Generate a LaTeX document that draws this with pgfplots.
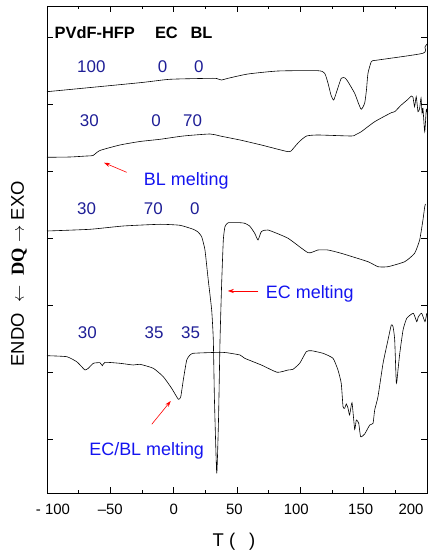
\documentclass[border=0pt]{standalone}
\usepackage{fontspec}
\setmainfont{Liberation Sans}
\newfontfamily\serifb{Liberation Serif}
\usepackage{pgfplots}
\pgfplotsset{compat=1.18}
\usetikzlibrary{arrows.meta}
\definecolor{numblue}{RGB}{30,30,150}
\definecolor{lblblue}{RGB}{20,20,240}
\begin{document}
\begin{tikzpicture}
\begin{axis}[
 scale only axis, width=380bp, height=487bp,
 xmin=-100, xmax=200, ymin=0, ymax=487,
 xtick={-100,-50,...,200}, xticklabels={\rule{12bp}{0pt}- 100,--50,0,50\rule{5bp}{0pt},100\rule{8bp}{0pt},150\rule{6bp}{0pt},200\rule{32bp}{0pt}},
 minor xtick={-75,-25,...,175},
 ytick={54,121,188,255,322,389,456}, yticklabels={},
 tick align=inside,
 major tick length=6bp, minor tick length=3.5bp,
 axis line style={line width=0.9pt},
 every tick/.style={line width=0.8pt, black},
 tick label style={font=\fontsize{15}{18}\selectfont},
 xticklabel style={yshift=-8bp},
 xlabel={T (\hspace{14bp})},
 xlabel style={at={(axis description cs:0.492,-0.1)}, anchor=center, font=\fontsize{18.5}{22}\selectfont},
 ylabel={ENDO\ \ $\leftarrow$\ \ {\serifb\bfseries DQ}\ $\rightarrow$\ EXO},
 ylabel style={at={(axis description cs:-0.074,0.45)}, anchor=center, font=\fontsize{18.5}{22}\selectfont},
 clip=false,
]
\coordinate (bl) at (rel axis cs:0,0);
\coordinate (tr) at (rel axis cs:1,1);
% curve 1: 100/0/0
\addplot[black, line width=0.6pt, smooth, tension=0.35] coordinates {
(-100,401.3) (-26.6,410.3) (-2.9,413.7) (31.1,414.7) (35.0,414) (37.9,413) (42.9,414.7)
(58.7,419) (82.4,422) (113.9,422.3) (119.2,419.7) (121.8,410) (124.2,398) (126.3,393)
(128.6,401) (132.3,414.7) (135.3,415) (137.6,411.3) (142.9,399.7) (145.5,391) (148.1,383.7)
(150.8,390) (152.2,403) (153.4,419.7) (156.0,431.3) (158.2,432.5) (161.3,433) (196.8,439.7)
(198.4,446) (200,449)};
% curve 2: 30/0/70
\addplot[black, line width=0.6pt, smooth, tension=0.35] coordinates {
(-100,335.7) (-81.8,336) (-68.7,337) (-63.7,337.5) (-58.2,342.5) (-42.4,348) (-26.6,351.5)
(-10.8,353.7) (7.6,357) (28.7,359) (36.6,357) (52.4,353) (69.2,348) (90.3,341.3) (93.4,343)
(95.6,346.3) (99.7,352) (105.0,357) (113.9,358) (140.2,357) (143.9,358.5) (148.1,361.3)
(158.7,371.3) (171.8,380.3) (174.5,381.3) (179.7,388) (185.0,393.7) (187.6,397) (188.9,396)
(190.2,386.3) (191.5,396.3) (192.9,381.3) (194.2,384.7) (195.3,395) (196.1,379.7) (196.8,384.7)
(198.2,361.3) (199.4,383) (200,381)};
% curve 3: 30/70/0
\addplot[black, line width=0.6pt, smooth, tension=0.3] coordinates {
(-100,262) (-66.1,263.7) (-39.8,267) (-10.8,268.7) (5.0,267.7) (15.5,263.7) (19.2,261)
(22.1,256.3) (24.7,243) (27.3,213) (30.0,183) (31.3,153) (32.2,93) (34.0,19.7) (35.4,73)
(36.6,153) (37.9,210) (39.2,253) (40.5,266.3) (43.1,270.3) (52.4,270.3) (56.1,269.7)
(60.0,267) (64.0,259.7) (66.6,253) (69.2,261.3) (74.5,263) (90.3,254.7) (106.1,240.3)
(113.9,243) (121.8,243) (132.3,239.7) (153.4,231.3) (161.3,226.3) (169.2,226.3)
(182.4,231.3) (190.2,239.7) (194.2,253) (196.8,273) (198.2,286.3) (198.8,289)};
% curve 4: 30/35/35
\addplot[black, line width=0.6pt, smooth, tension=0.3] coordinates {
(-100,137.3) (-84.4,136.3) (-76.6,131.3) (-72.4,126) (-70.0,123) (-67.4,124.7) (-63.4,129.7)
(-58.2,130.3) (-56.3,127.3) (-54.2,130.7) (-42.4,129.7) (-31.9,128) (-26.6,128.7)
(-16.1,124.7) (-8.2,116.3) (-1.6,104.7) (3.7,93.7) (5.6,96.3) (7.6,113) (10.3,133)
(12.9,138) (15.5,139.7) (26.1,140.3) (36.6,140.7) (41.9,140.3) (52.4,138) (56.1,134.7)
(69.2,128) (81.8,120.7) (90.3,123) (94.2,123.7) (99.5,129.7) (104.7,141.3) (108.7,142.3)
(117.9,139.7) (125.8,134.7) (129.7,123) (132.3,109.7) (133.7,86.3) (135.0,84.7) (136.3,89)
(137.6,85) (138.9,78) (140.8,90.3) (142.9,63.7) (144.2,73) (146.1,69.7) (147.6,56.3)
(150.8,59) (154.8,68) (157.4,69.7) (158.7,83) (161.3,96.3) (165.3,129.7) (169.2,153)
(171.8,168) (173.2,166.3) (174.5,153) (175.8,109.7) (177.1,123) (178.5,139.7) (181.1,163)
(184.0,174.7) (189.2,179.7) (191.9,171.3) (193.2,176.3) (195.8,179.7) (198.4,171.3) (199.8,179.7)};
% header
\node[anchor=base, font=\fontsize{16.5}{20}\selectfont\bfseries] at (axis cs:-62.3,454.7) {PVdF-HFP};
\node[anchor=base, font=\fontsize{16.5}{20}\selectfont\bfseries] at (axis cs:-5.7,454.7) {EC};
\node[anchor=base, font=\fontsize{16.5}{20}\selectfont\bfseries] at (axis cs:22.0,454.7) {BL};
% numbers
\begin{scope}[every node/.style={anchor=base, text=numblue, font=\fontsize{17}{20}\selectfont}]
\node at (axis cs:-65.0,420.3) {100};
\node at (axis cs:-8.7,420.3) {0};
\node at (axis cs:19.8,420.3) {0};
\node at (axis cs:-66.6,366.3) {30};
\node at (axis cs:-13.9,366.3) {0};
\node at (axis cs:15.0,366.3) {70};
\node at (axis cs:-68.7,278.7) {30};
\node at (axis cs:-16.1,278.7) {70};
\node at (axis cs:16.8,278.7) {0};
\node at (axis cs:-68.2,154) {30};
\node at (axis cs:-15.5,154) {35};
\node at (axis cs:13.4,154) {35};
\end{scope}
% annotations
\begin{scope}[every node/.style={anchor=base, text=lblblue, font=\fontsize{18}{21}\selectfont}]
\node at (axis cs:10.0,307) {BL melting};
\node at (axis cs:107.5,194.7) {EC melting};
\node at (axis cs:-21.3,38) {EC/BL melting};
\end{scope}
\draw[red, line width=0.6pt, -{Stealth[length=6bp,width=4bp]}] (axis cs:-37.1,320.7) -- (axis cs:-55.0,330.3);
\draw[red, line width=0.6pt, -{Stealth[length=6bp,width=4bp]}] (axis cs:66.8,202) -- (axis cs:42.7,202);
\draw[red, line width=0.6pt, -{Stealth[length=6bp,width=4bp]}] (axis cs:-17.3,68.7) -- (axis cs:-2.3,92);
\end{axis}
\pgfresetboundingbox
\path ([shift={(-47bp,-64bp)}]bl) rectangle ([shift={(1bp,6bp)}]tr);
\end{tikzpicture}
\end{document}
